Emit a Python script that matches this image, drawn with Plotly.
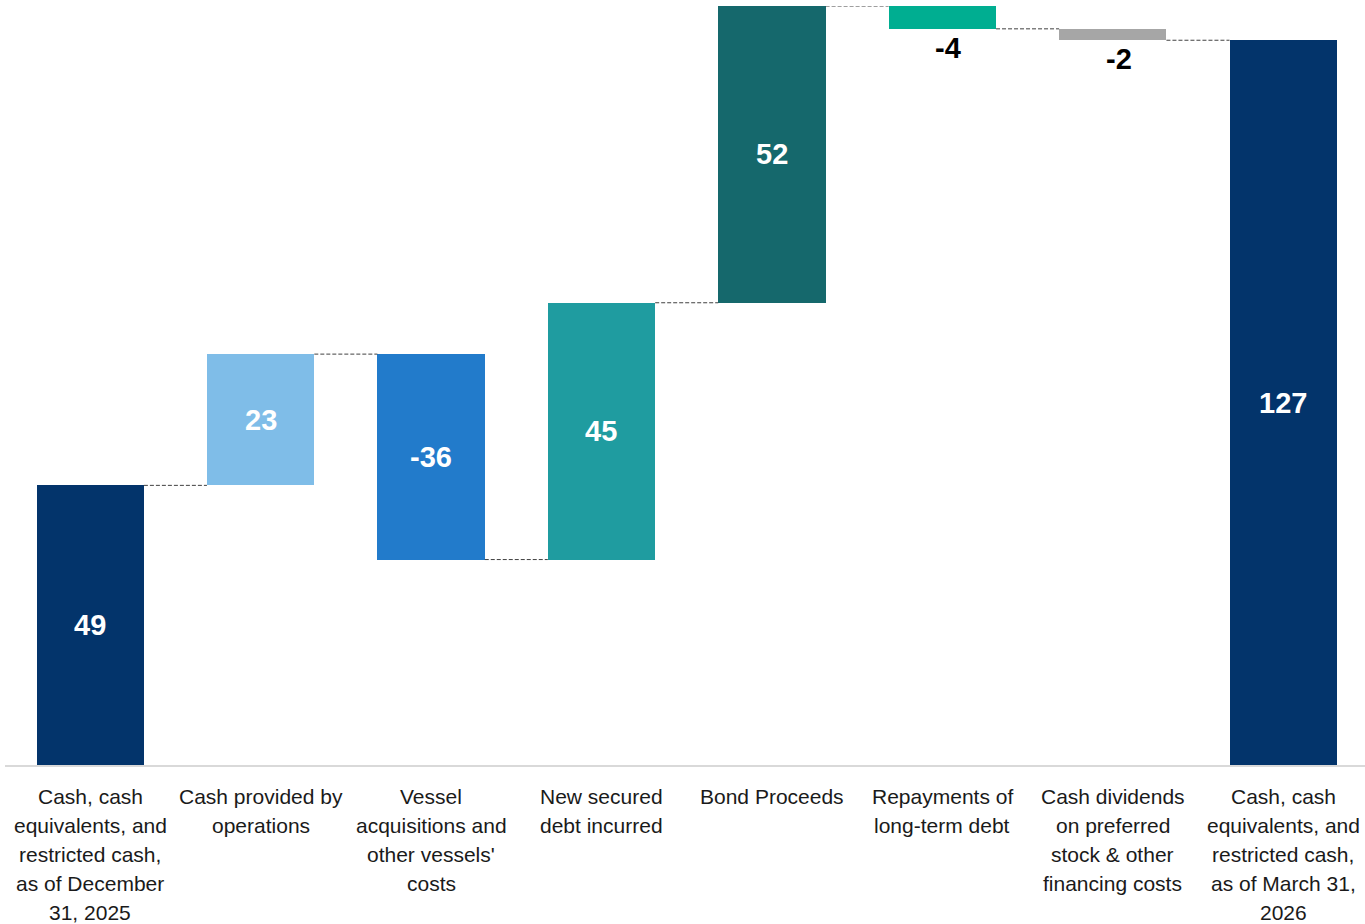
import plotly.graph_objects as go

categories = [
    "Cash, cash<br>equivalents, and<br>restricted cash,<br>as of December<br>31, 2025",
    "Cash provided by<br>operations",
    "Vessel<br>acquisitions and<br>other vessels'<br>costs",
    "New secured<br>debt incurred",
    "Bond Proceeds",
    "Repayments of<br>long-term debt",
    "Cash dividends<br>on preferred<br>stock & other<br>financing costs",
    "Cash, cash<br>equivalents, and<br>restricted cash,<br>as of March 31,<br>2026",
]
values = [49, 23, -36, 45, 52, -4, -2, 127]
is_total = [True, False, False, False, False, False, False, True]
colors = ["#03346B", "#7FBDE8", "#227BCB", "#1F9CA0", "#15686C", "#00AE91", "#A6A6A6", "#03346B"]

# compute bases / cumulative levels
bases, heights, levels = [], [], []
running = 0
for v, t in zip(values, is_total):
    if t:
        bases.append(0)
        heights.append(v)
        running = v
    else:
        bases.append(running)
        heights.append(v)
        running = running + v
    levels.append(running)

x = list(range(len(categories)))
bar_w = 0.63

fig = go.Figure()
fig.add_trace(go.Bar(
    x=x, y=heights, base=bases, width=bar_w,
    marker=dict(color=colors, line=dict(width=0)),
    hoverinfo="skip", showlegend=False,
))

# connectors
for i in range(len(x) - 1):
    fig.add_shape(type="line", xref="x", yref="y",
                  x0=x[i] + bar_w / 2, x1=x[i + 1] - bar_w / 2,
                  y0=levels[i], y1=levels[i],
                  line=dict(color="#404040", width=1, dash="4px,2px"))

# value labels
for i, v in enumerate(values):
    lo = min(bases[i], bases[i] + heights[i])
    hi = max(bases[i], bases[i] + heights[i])
    if abs(v) >= 10:
        fig.add_annotation(x=x[i], y=(lo + hi) / 2, text=f"<b>{v}</b>", showarrow=False,
                           font=dict(family="Liberation Sans, Arial", size=29, color="white"))
    else:
        fig.add_annotation(x=x[i], y=lo, text=f"<b>{v}</b>", showarrow=False,
                           yanchor="top", xshift=6, yshift=-1,
                           font=dict(family="Liberation Sans, Arial", size=29, color="black"))

# category labels, one annotation per line for Excel-like line spacing
for i, cat in enumerate(categories):
    for k, line in enumerate(cat.split("<br>")):
        fig.add_annotation(x=x[i], y=0, xref="x", yref="y", text=line, showarrow=False,
                           yanchor="middle", yshift=-(31 + 29 * k),
                           font=dict(family="Liberation Sans, Arial", size=21, color="#1A1A1A"))

fig.update_layout(
    width=1365, height=924,
    margin=dict(l=5, r=0, t=6, b=159),
    paper_bgcolor="white", plot_bgcolor="white",
    bargap=0,
    xaxis=dict(
        range=[-0.5, 7.48], showgrid=False, zeroline=False,
        showline=True, linecolor="#D9D9D9", linewidth=2,
        ticks="", showticklabels=False,
    ),
    yaxis=dict(range=[0, 133], visible=False, showgrid=False, zeroline=False),
)

fig.write_html("out.html")
